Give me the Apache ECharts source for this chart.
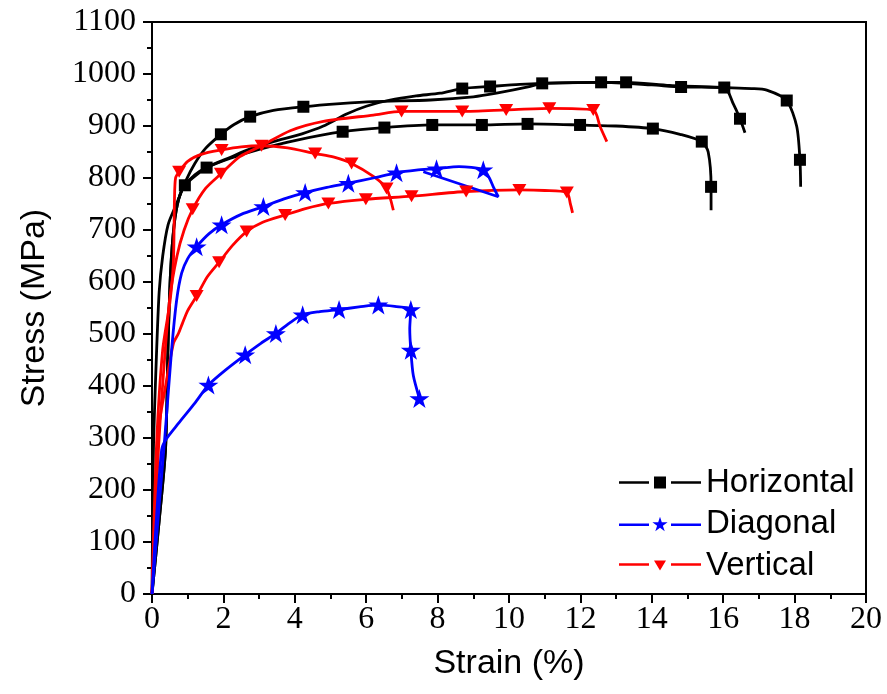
<!DOCTYPE html>
<html>
<head>
<meta charset="utf-8">
<script src="https://cdn.jsdelivr.net/npm/echarts@6/dist/echarts.min.js"></script>
<style>
html,body{margin:0;padding:0;background:#fff;}
#chart{width:887px;height:694px;}
</style>
</head>
<body>
<div id="chart"></div>
<script>
// ---- data: [strain %, stress MPa, marker flag] ----
const horizontal1 = [[0,0,0],[0.2,140,0],[0.38,280,0],[0.45,480,0],[0.52,620,0],[0.62,710,0],[0.75,760,0],[0.92,786,1],[1.2,806,0],[1.53,820,1],[2.2,838,0],[3.0,855,0],[4.0,872,0],[5.34,889,1],[6.51,897,1],[7.85,902,1],[9.24,902,1],[10.52,904,1],[11.99,902,1],[13.0,900,0],[14.03,895,1],[14.79,884,0],[15.40,870,1],[15.58,850,0],[15.66,783,1],[15.66,738,0]];
const horizontal2 = [[0,0,0],[0.04,277,0],[0.12,450,0],[0.2,580,0],[0.3,650,0],[0.45,710,0],[0.69,751,0],[0.95,795,0],[1.2,828,0],[1.5,857,0],[1.93,884,1],[2.3,903,0],[2.75,918,1],[3.4,930,0],[4.24,937,1],[5.27,943,0],[6.2,947,0],[7.8,950,0],[9.0,956,0],[9.65,963,0],[10.6,976,0],[10.93,982,1],[12.58,984,1],[14.0,979,0],[14.82,975,1],[16.03,974,1],[16.28,943,0],[16.47,914,1],[16.61,887,0]];
const horizontal3 = [[0,0,0],[0.2,140,0],[0.38,280,0],[0.45,480,0],[0.52,620,0],[0.62,710,0],[0.75,760,0],[0.92,786,0],[1.53,820,0],[2.2,840,0],[2.75,856,0],[3.40,870,0],[4.2,885,0],[4.80,900,0],[5.45,923,0],[6.0,938,0],[6.67,950,0],[7.4,958,0],[8.07,963,0],[8.69,972,1],[9.47,976,1],[10.3,980,0],[11.5,983,0],[13.28,984,1],[14.5,978,0],[16.03,974,0],[16.8,972,0],[17.22,969,0],[17.78,949,1],[18.06,899,0],[18.15,835,1],[18.17,783,0]];
const vertical1 = [[0,0,0],[0.13,290,0],[0.3,470,0],[0.5,560,0],[0.6,640,0],[0.63,760,0],[0.66,800,0],[0.76,812,1],[1.0,832,0],[1.4,846,0],[1.95,854,1],[2.5,860,0],[3.07,862,1],[3.8,858,0],[4.57,847,1],[5.1,840,0],[5.59,828,1],[6.2,803,0],[6.57,780,1],[6.76,738,0]];
const vertical2 = [[0,0,0],[0.18,277,0],[0.35,450,0],[0.5,570,0],[0.7,650,0],[0.9,700,0],[1.14,740,1],[1.5,780,0],[1.93,808,1],[2.46,841,0],[3.07,862,0],[3.87,891,0],[4.8,909,0],[6.2,921,0],[6.99,928,1],[7.8,928,0],[8.69,928,1],[9.92,931,1],[11.13,934,1],[12.36,931,1],[12.55,899,0],[12.74,870,0]];
const vertical3 = [[0,0,0],[0.08,150,0],[0.18,315,0],[0.36,392,0],[0.6,482,0],[0.74,501,0],[0.85,520,0],[1.0,545,0],[1.25,573,1],[1.55,610,0],[1.88,638,1],[2.25,670,0],[2.65,697,1],[3.1,715,0],[3.73,729,1],[4.3,741,0],[4.94,751,1],[5.99,759,1],[7.27,765,1],[8.80,774,1],[10.29,777,1],[11.0,776,0],[11.62,772,1],[11.72,750,0],[11.78,733,0]];
const diagonal1 = [[0,0,0],[0.2,170,0],[0.36,302,0],[0.55,470,0],[0.69,565,0],[0.83,617,0],[1.0,645,0],[1.25,668,1],[1.6,693,0],[1.95,710,1],[2.5,730,0],[3.12,745,1],[3.7,760,0],[4.29,772,1],[4.9,782,0],[5.50,790,1],[6.2,800,0],[6.85,810,1],[7.4,815,0],[7.97,818,1],[8.6,822,0],[9.28,816,1],[9.45,800,0],[9.56,783,0],[9.70,764,0],[7.6,812,0]];
const diagonal2 = [[0,0,0],[0.1,120,0],[0.27,277,0],[0.4,298,0],[0.74,328,0],[1.2,367,0],[1.58,402,1],[2.1,433,0],[2.61,460,1],[3.05,482,0],[3.47,501,1],[3.85,521,0],[4.22,537,1],[4.7,543,0],[5.24,547,1],[5.8,552,0],[6.34,556,1],[6.8,553,0],[7.25,547,1],[7.22,510,0],[7.25,469,1],[7.32,420,0],[7.49,376,1]];

const legendNames = ['Horizontal','Diagonal','Vertical'];
const xRange = [0, 20];
const yRange = [0, 1100];

const STAR = 'path://M50,0L61.2,34.5L97.6,34.5L68.2,55.9L79.4,90.5L50,69.1L20.6,90.5L31.8,55.9L2.4,34.5L38.8,34.5Z';
const TRI = 'path://M0,0L12,0L6,10Z';

const styles = {
  Horizontal: {color:'#000000', symbol:'rect', size:12, keep:false},
  Diagonal:   {color:'#0000ff', symbol:STAR, size:20, keep:true},
  Vertical:   {color:'#ff0000', symbol:TRI, size:[14,12], keep:false}
};

function mkSeries(name, pts){
  const s = styles[name];
  return {
    type:'line', name:name,
    data: pts.map(p => ({value:[p[0],p[1]], symbol: p[2] ? s.symbol : 'none'})),
    symbol: s.symbol, symbolSize: s.size, symbolKeepAspect: s.keep,
    showSymbol: true, showAllSymbol: true,
    smooth: 0.25,
    lineStyle: {color:s.color, width:2.8},
    itemStyle: {color:s.color, borderWidth:0},
    emphasis: {disabled:true},
    animation: false
  };
}

const series = [
  mkSeries('Horizontal', horizontal1),
  mkSeries('Horizontal', horizontal2),
  mkSeries('Horizontal', horizontal3),
  mkSeries('Vertical', vertical1),
  mkSeries('Vertical', vertical2),
  mkSeries('Vertical', vertical3),
  mkSeries('Diagonal', diagonal1),
  mkSeries('Diagonal', diagonal2)
];

const legendIcons = {
  Horizontal: 'path://M0,4.7L30,4.7L30,7.3L0,7.3Z M35,0L47,0L47,12L35,12Z M52,4.7L82,4.7L82,7.3L52,7.3Z',
  Diagonal: 'path://M0,6.7L30,6.7L30,9.3L0,9.3Z M41,0L42.8,5.53L48.61,5.53L43.9,8.94L45.7,14.47L41,11.06L36.3,14.47L38.1,8.94L33.39,5.53L39.2,5.53Z M52,6.7L82,6.7L82,9.3L52,9.3Z',
  Vertical: 'path://M0,2.7L30,2.7L30,5.3L0,5.3Z M35,0L47,0L41,10Z M52,2.7L82,2.7L82,5.3L52,5.3Z'
};

const chart = echarts.init(document.getElementById('chart'), null, {renderer:'canvas'});
chart.setOption({
  animation: false,
  backgroundColor: '#ffffff',
  grid: {left:152, right:21, top:22, bottom:100, show:true, borderColor:'#000', borderWidth:2, backgroundColor:'transparent'},
  legend: {
    orient:'vertical', left:614, top:461,
    itemWidth:82, itemHeight:16, itemGap:8.5,
    data: legendNames.map(n => ({name:n, icon: legendIcons[n]})),
    itemStyle: {borderWidth:0},
    textStyle: {fontFamily:'Liberation Sans', fontSize:33, color:'#000'},
    selectedMode:false
  },
  xAxis: {
    type:'value', min:xRange[0], max:xRange[1], interval:2,
    name:'Strain (%)', nameLocation:'middle', nameGap:53,
    nameTextStyle:{fontFamily:'Liberation Sans', fontSize:34, color:'#000'},
    axisLine:{show:true, onZero:false, lineStyle:{color:'#000', width:2}},
    axisTick:{show:true, inside:false, length:9, lineStyle:{color:'#000', width:2}},
    minorTick:{show:true, splitNumber:2, length:5, lineStyle:{color:'#000', width:2}},
    axisLabel:{fontFamily:'Liberation Serif', fontSize:32, color:'#000', margin:10, formatter: v => String(v)},
    splitLine:{show:false}, minorSplitLine:{show:false}
  },
  yAxis: {
    type:'value', min:yRange[0], max:yRange[1], interval:100,
    name:'Stress (MPa)', nameLocation:'middle', nameGap:100,
    nameTextStyle:{fontFamily:'Liberation Sans', fontSize:34, color:'#000'},
    axisLine:{show:true, onZero:false, lineStyle:{color:'#000', width:2}},
    axisTick:{show:true, inside:false, length:9, lineStyle:{color:'#000', width:2}},
    minorTick:{show:true, splitNumber:2, length:5, lineStyle:{color:'#000', width:2}},
    axisLabel:{fontFamily:'Liberation Serif', fontSize:32, color:'#000', margin:16, formatter: v => String(v)},
    splitLine:{show:false}, minorSplitLine:{show:false}
  },
  series: series
});
</script>
</body>
</html>
